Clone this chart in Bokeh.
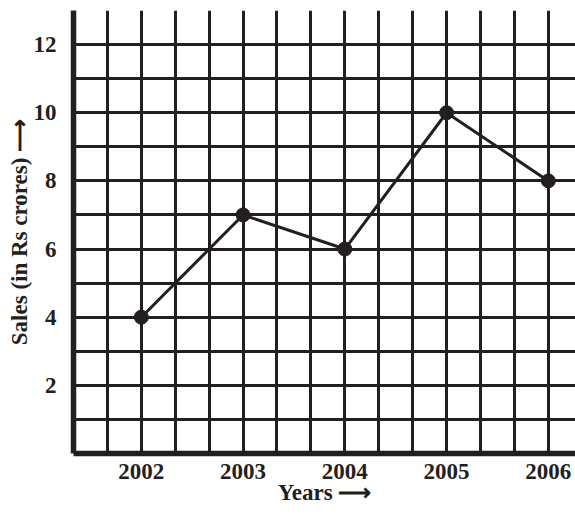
import numpy as np
from bokeh.plotting import figure
from bokeh.models import FixedTicker, Range1d
from bokeh.embed import file_html
from bokeh.resources import INLINE

years = [2002, 2003, 2004, 2005, 2006]
sales = [4, 7, 6, 10, 8]
y_tick_values = [2, 4, 6, 8, 10, 12]
x_title = "Years \u27f6"
y_title = "Sales (in Rs crores) \u27f6"

INK = "#231f20"
FONT = "Liberation Serif"

p = figure(width=575, height=515, output_backend="svg", toolbar_location=None,
           x_range=Range1d(2001 + 1/3, 2006.267), y_range=Range1d(0, 13),
           min_border_left=73, min_border_right=0, min_border_top=10, min_border_bottom=62)
p.outline_line_color = None
p.background_fill_color = "white"

# grid: every third of a year, every unit of sales
p.xgrid.ticker = FixedTicker(ticks=list(np.arange(2001 + 2/3, 2006.4, 1/3)))
p.ygrid.ticker = FixedTicker(ticks=list(range(1, 14)))
for g in (p.xgrid, p.ygrid):
    g.grid_line_color = INK
    g.grid_line_width = 3
    g.grid_line_alpha = 1

p.xaxis.ticker = FixedTicker(ticks=years)
p.yaxis.ticker = FixedTicker(ticks=y_tick_values)
for ax in (p.xaxis, p.yaxis):
    ax.axis_line_color = INK
    ax.axis_line_width = 5.5
    ax.major_tick_line_color = None
    ax.minor_tick_line_color = None
    ax.major_tick_in = 0
    ax.major_tick_out = 0
    ax.major_label_text_font = FONT
    ax.major_label_text_font_style = "bold"
    ax.major_label_text_font_size = "23px"
    ax.major_label_text_color = INK
    ax.axis_label_text_font = FONT
    ax.axis_label_text_font_style = "bold"
    ax.axis_label_text_font_size = "23px"
    ax.axis_label_text_color = INK
p.xaxis.major_label_standoff = 10
p.yaxis.major_label_standoff = 17
p.xaxis.axis_label = x_title
p.yaxis.axis_label = y_title
p.xaxis.axis_label_standoff = -2
p.yaxis.axis_label_standoff = -1

p.line(years, sales, line_color=INK, line_width=3)
p.scatter(years, sales, size=14, fill_color=INK, line_color=INK)

open("out.html", "w").write(file_html(p, INLINE))
